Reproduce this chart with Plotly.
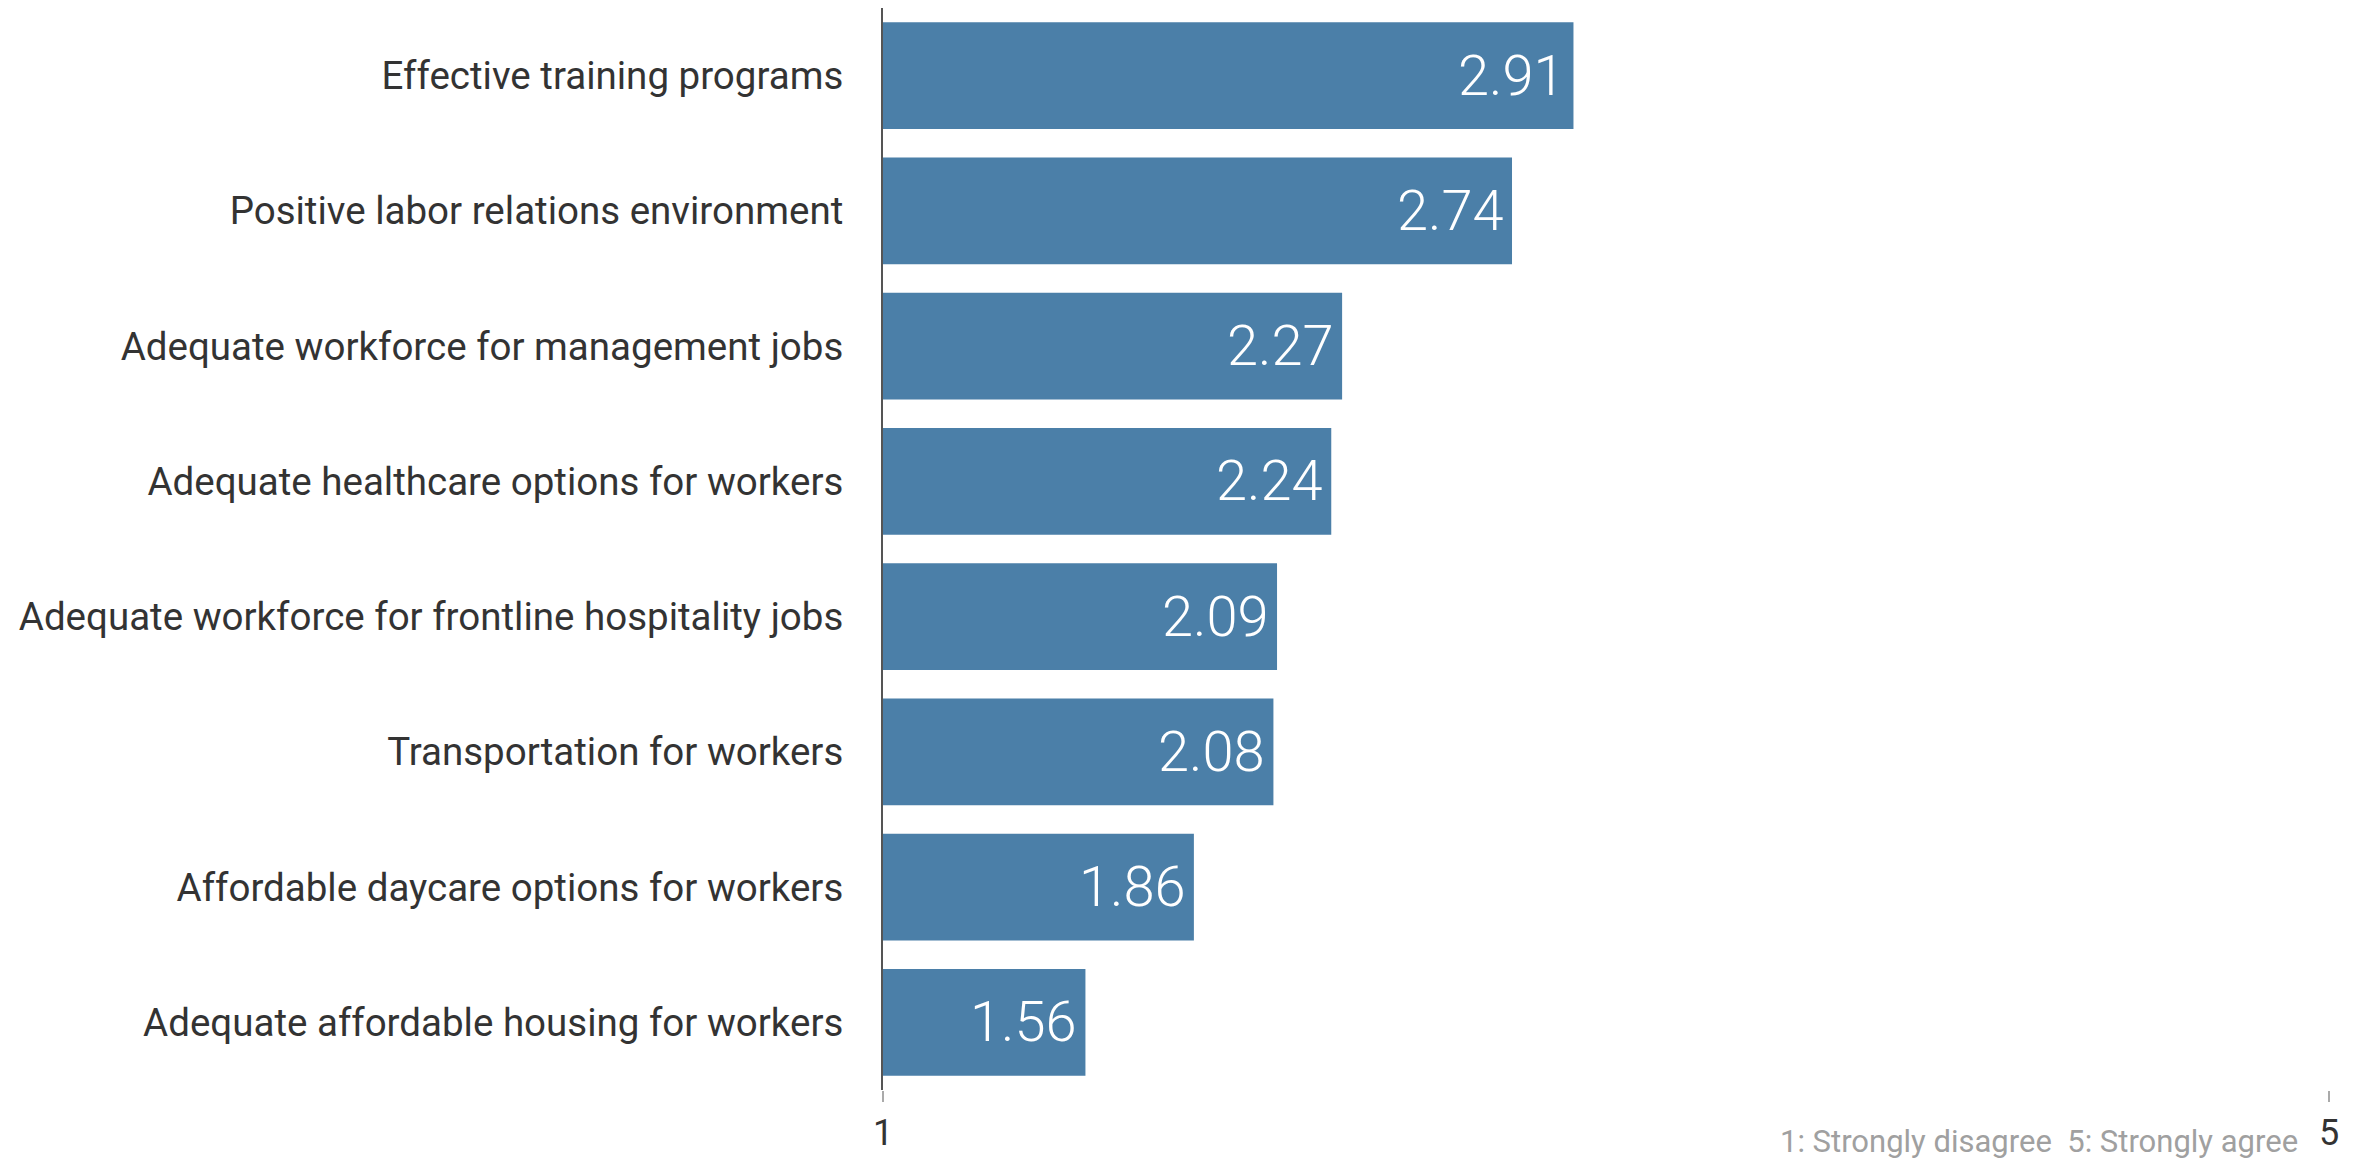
import plotly.graph_objects as go

# Survey items and mean agreement scores (1 = strongly disagree, 5 = strongly agree)
categories = [
    "Effective training programs",
    "Positive labor relations environment",
    "Adequate workforce for management jobs",
    "Adequate healthcare options for workers",
    "Adequate workforce for frontline hospitality jobs",
    "Transportation for workers",
    "Affordable daycare options for workers",
    "Adequate affordable housing for workers",
]
scores = [2.91, 2.74, 2.27, 2.24, 2.09, 2.08, 1.86, 1.56]
tick_values = [1, 5]
tick_labels = ["1", "5"]
scale_note = "1: Strongly disagree  5: Strongly agree"

BAR_COLOR = "#4b7fa8"
FONT = "Roboto"

fig = go.Figure(
    go.Bar(
        x=scores,
        y=categories,
        orientation="h",
        marker=dict(color=BAR_COLOR, line=dict(width=0)),
        hoverinfo="x+y",
    )
)

# value labels placed inside the right end of each bar
for cat, val in zip(categories, scores):
    fig.add_annotation(
        x=val, y=cat, xref="x", yref="y",
        text=f"{val:.2f}", showarrow=False,
        xanchor="right", xshift=-6,
        font=dict(family=FONT, size=56, color="white", weight=300),
    )

# scale explanation under the axis
fig.add_annotation(
    x=0.98, y=-0.048, xref="paper", yref="paper",
    text=scale_note, showarrow=False,
    xanchor="right", yanchor="middle",
    font=dict(family=FONT, size=31, color="#a0a0a0"),
)

fig.update_layout(
    width=2357, height=1167,
    margin=dict(l=883, r=28, t=8, b=77),
    paper_bgcolor="white", plot_bgcolor="white",
    bargap=0.21,
    showlegend=False,
    font=dict(family=FONT, color="#333333"),
)
fig.update_xaxes(
    range=[1, 5],
    tickvals=tick_values, ticktext=tick_labels,
    ticks="outside", ticklen=11, tickcolor="#aaaaaa", tickwidth=2,
    showgrid=False, zeroline=False, showline=False,
    tickfont=dict(family=FONT, size=36, color="#333333"),
)
fig.update_yaxes(
    autorange="reversed",
    showgrid=False, zeroline=False,
    showline=True, linecolor="#555555", linewidth=2,
    ticks="", ticklabelstandoff=30,
    tickfont=dict(family=FONT, size=38.5, color="#333333"),
)

fig.write_html("out.html")
